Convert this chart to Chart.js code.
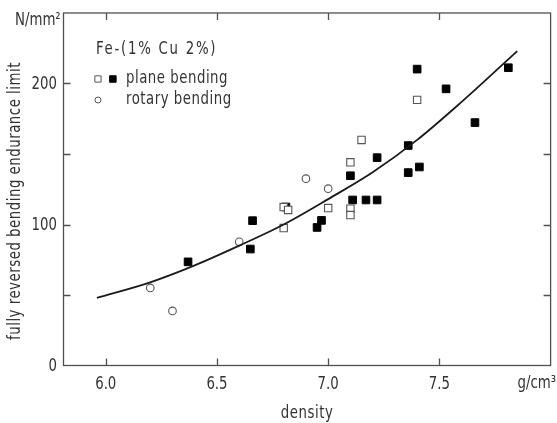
<!DOCTYPE html>
<html><head><meta charset="utf-8">
<script src="https://cdn.jsdelivr.net/npm/chart.js@4"></script>
<style>html,body{margin:0;padding:0;background:#fff}#wrap{width:557px;height:423px;position:relative}</style>
</head><body><div id="wrap"><canvas id="c" width="557" height="423"></canvas></div>
<script>
// x tick labels and y tick labels
const xTicks = [6.0, 6.5, 7.0, 7.5];
const yTicks = [0, 100, 200];
const yMinorTicks = [50, 150];
// plane bending, filled squares
const filledX = [6.37, 6.65, 6.66, 6.81, 6.95, 6.97, 7.10, 7.11, 7.17, 7.22, 7.22, 7.36, 7.36, 7.40, 7.41, 7.53, 7.66, 7.81];
const filledY = [73.5, 82.6, 102.7, 112.4, 97.9, 102.9, 134.6, 117.4, 117.4, 117.4, 147.4, 156.0, 136.8, 210.2, 140.8, 196.2, 172.3, 211.2];
// plane bending, open squares
const openX = [6.80, 6.82, 6.80, 7.00, 7.10, 7.10, 7.10, 7.15, 7.40];
const openY = [112.4, 110.3, 97.5, 111.7, 144.1, 111.2, 106.7, 160.0, 188.4];
// rotary bending, open circles
const circleX = [6.20, 6.30, 6.60, 6.90, 7.00];
const circleY = [55.0, 38.7, 87.7, 132.5, 125.4];
// fitted curve
const curveX = [5.96, 6.2, 6.4, 6.6, 6.8, 7.0, 7.2, 7.4, 7.6, 7.85];
const curveY = [48, 59, 71, 85, 100, 118, 137, 160, 187, 223];

const pts = (xs, ys) => xs.map((x, i) => ({x, y: ys[i]}));
const FONT = '"DejaVu Sans Condensed", "Liberation Sans Narrow", sans-serif';
const AX = '#505050';
const TXT = '#333';
const SX = 0.87; // horizontal squeeze for a condensed look

function txt(ctx, s, x, y, align, spacing) {
  ctx.save();
  ctx.letterSpacing = (spacing || 0) + 'px';
  const w = ctx.measureText(s).width * SX;
  let x0 = x;
  if (align === 'center') x0 = x - w / 2;
  else if (align === 'right') x0 = x - w;
  ctx.translate(x0, y);
  ctx.scale(SX, 1);
  ctx.textAlign = 'left';
  ctx.fillText(s, 0, 0);
  ctx.restore();
}

const decor = {
  id: 'decor',
  afterDraw(chart) {
    const {ctx, chartArea: a, scales: {x, y}} = chart;
    ctx.save();
    ctx.strokeStyle = AX; ctx.lineWidth = 1.3;
    ctx.strokeRect(a.left, a.top, a.right - a.left, a.bottom - a.top);
    ctx.beginPath();
    const TL = 7;
    xTicks.forEach(v => { const p = Math.round(x.getPixelForValue(v)) + 0.5;
      ctx.moveTo(p, a.bottom); ctx.lineTo(p, a.bottom - TL);
      ctx.moveTo(p, a.top); ctx.lineTo(p, a.top + TL); });
    [...yTicks.slice(1), ...yMinorTicks].forEach(v => { const p = Math.round(y.getPixelForValue(v)) + 0.5;
      ctx.moveTo(a.left, p); ctx.lineTo(a.left + TL, p);
      ctx.moveTo(a.right, p); ctx.lineTo(a.right - TL, p); });
    ctx.stroke();

    ctx.fillStyle = TXT;
    ctx.font = '17px ' + FONT;
    ctx.textBaseline = 'middle';
    xTicks.forEach(v => txt(ctx, v.toFixed(1), x.getPixelForValue(v), 385, 'center'));
    yTicks.forEach(v => txt(ctx, String(v), 57, y.getPixelForValue(v) + 1, 'right'));
    txt(ctx, 'g/cm³', 556, 384, 'right');
    txt(ctx, 'N/mm²', 15, 21, 'left');
    txt(ctx, 'density', (a.left + a.right) / 2, 414, 'center', 0.6);
    ctx.save();
    ctx.translate(16, 201);
    ctx.rotate(-Math.PI / 2);
    txt(ctx, 'fully reversed bending endurance limit', 0, 0, 'center', 0.6);
    ctx.restore();
    txt(ctx, 'Fe-(1% Cu 2%)', 96, 50, 'left', 2);
    txt(ctx, 'plane bending', 126, 79, 'left', 0.6);
    txt(ctx, 'rotary bending', 126, 100, 'left', 0.6);
    ctx.restore();
  }
};

new Chart(document.getElementById('c'), {
  type: 'scatter',
  data: {
    datasets: [
      { data: pts(curveX, curveY), showLine: true, cubicInterpolationMode: 'monotone', borderColor: '#1a1a1a', borderWidth: 1.8, pointRadius: 0, fill: false },
      { data: pts(circleX, circleY), pointStyle: 'circle', pointRadius: 3.8, pointBackgroundColor: '#fff', pointBorderColor: '#555', pointBorderWidth: 1.1 },
      { data: pts(openX, openY), pointStyle: 'rect', pointRadius: 5.2, pointBackgroundColor: '#fff', pointBorderColor: '#555', pointBorderWidth: 1.1 },
      { data: pts(filledX, filledY), pointStyle: 'rect', pointRadius: 5.4, pointBackgroundColor: '#000', pointBorderColor: '#000', pointBorderWidth: 1 },
      { data: [{x: 5.965, y: 203.2}], pointStyle: 'rect', pointRadius: 4.4, pointBackgroundColor: '#fff', pointBorderColor: '#555', pointBorderWidth: 1 },
      { data: [{x: 6.032, y: 203.2}], pointStyle: 'rect', pointRadius: 4.6, pointBackgroundColor: '#000', pointBorderColor: '#000', pointBorderWidth: 1 },
      { data: [{x: 5.965, y: 188.3}], pointStyle: 'circle', pointRadius: 3.0, pointBackgroundColor: '#fff', pointBorderColor: '#555', pointBorderWidth: 1 }
    ]
  },
  options: {
    responsive: false, animation: false, devicePixelRatio: 1,
    layout: { padding: { left: 63.5, right: 1.5, top: 13, bottom: 57.5 } },
    plugins: { legend: { display: false }, tooltip: { enabled: false } },
    scales: {
      x: { type: 'linear', min: 5.81, max: 8.0, display: false },
      y: { type: 'linear', min: 0, max: 250, display: false }
    }
  },
  plugins: [decor]
});
</script></body></html>
